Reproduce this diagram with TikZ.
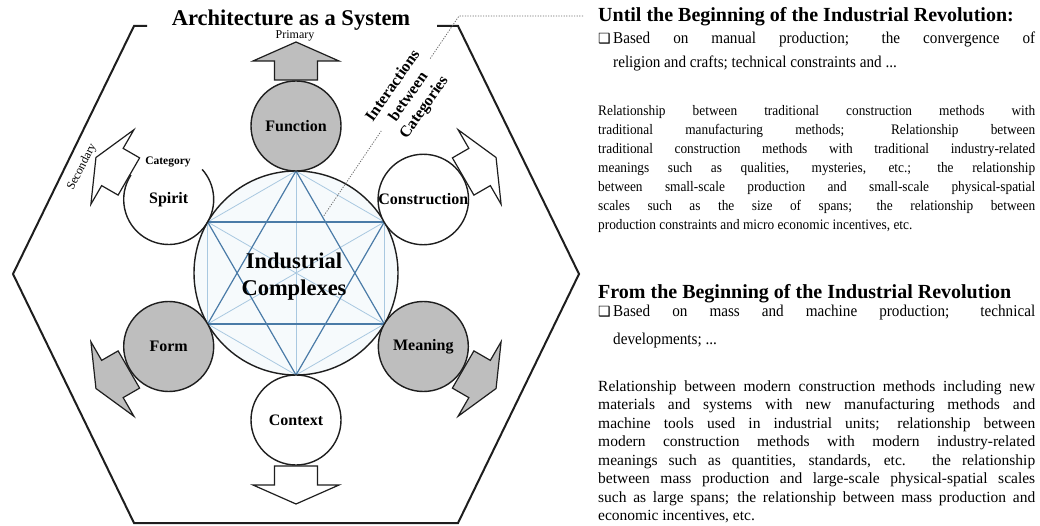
\documentclass[tikz,border=0pt]{standalone}
\usepackage{graphicx}
\usepackage{fontspec}
\setmainfont{Liberation Serif}
\newfontfamily\dejavu{DejaVu Sans}
\definecolor{darkline}{HTML}{1E1E1E}
\definecolor{fillgray}{HTML}{BEBEBE}
\definecolor{hexdark}{HTML}{4A7BA7}
\definecolor{hexlight}{HTML}{A9C8E0}
\definecolor{innerfill}{HTML}{F6FAFC}
\definecolor{dotgray}{HTML}{6E6E6E}
\newcommand{\fsz}[2]{\fontsize{#1}{#2}\selectfont}
\newcommand{\catarrow}[2]{%
  \draw[blockarrow, fill=#2, shift={(c.center)}, rotate=#1]
    (193,-21.5) -- (212,-21.5) -- (212,-43) -- (231,0) -- (212,43) -- (212,21.5) -- (193,21.5) -- cycle;}
\newcommand{\jline}[1]{\makebox[437pt][s]{#1}}
\newcommand{\sqA}[1]{\scalebox{0.92}[1]{\makebox[475pt][s]{#1}}}
\newcommand{\sqAn}[1]{\scalebox{0.92}[1]{#1}}
\newcommand{\sqB}[1]{\scalebox{0.92}[1]{\makebox[458.7pt][s]{#1}}}
\newcommand{\sqBn}[1]{\scalebox{0.92}[1]{#1}}
\newcommand{\bulbox}{\makebox[12pt][l]{\dejavu\fsz{14}{16}❑}\hspace{3pt}}
\begin{document}
\begin{tikzpicture}[x=1pt,y=1pt,
  catbase/.style={circle, minimum size=90pt, inner sep=0pt, outer sep=0pt, font=\fsz{16}{18}\bfseries},
  catgray/.style={catbase, draw=darkline, line width=1.4pt, fill=fillgray},
  catwhite/.style={catbase, draw=darkline, line width=1.4pt, fill=white},
  blockarrow/.style={draw=darkline, line width=1.2pt, line join=miter},
  hexstrong/.style={draw=hexdark, line width=1.2pt},
  hexweak/.style={draw=hexlight, line width=0.8pt},
  headtxt/.style={anchor=base west, inner sep=0pt, font=\fsz{20}{22}\bfseries},
  bultxt/.style={anchor=base west, inner sep=0pt, font=\fsz{16.5}{19}},
  paraA/.style={anchor=base west, inner sep=0pt, font=\fsz{14.5}{17}},
  paraB/.style={anchor=base west, inner sep=0pt, font=\fsz{15.5}{18}},
  smalltxt/.style={inner sep=1pt, font=\fsz{12}{14}},
]
\useasboundingbox (0,0) rectangle (1040,525);
\fill[white] (0,0) rectangle (1040,525);

% outer hexagon
\draw[line width=2pt, darkline, line join=miter]
  (147,499) -- (134,499) -- (13,251) -- (134,2) -- (458,2) -- (579,251) -- (458,499) -- (437,499);
\node[anchor=base, inner sep=0pt, font=\fsz{22.5}{26}\bfseries] (title) at (291,499) {Architecture as a System};

% central circle
\node[circle, draw=darkline, line width=1.4pt, fill=innerfill, minimum size=204pt, inner sep=0pt, outer sep=0pt] (c) at (296,252) {};
\foreach \a/\b in {90/150, 150/210, 210/270, 270/330, 330/30, 30/90, 90/270, 150/330, 210/30}
  \draw[hexweak] (c.\a) -- (c.\b);
\foreach \a/\b in {90/210, 210/330, 330/90, 270/30, 30/150, 150/270}
  \draw[hexstrong] (c.\a) -- (c.\b);
\node[align=center, inner sep=0pt, font=\fsz{22.5}{27}\bfseries] (ctext) at (294,248) {Industrial\\Complexes};

% dotted leader
\coordinate (dA) at (583,509);
\coordinate (dB) at (459,509);
\coordinate (dC) at (323,308);
\draw[dotgray, line width=0.8pt, dash pattern=on 1.2pt off 1.4pt] (dA) -- (dB) -- (dC);
\node[fill=white, inner sep=2pt, rotate=55, align=center, font=\fsz{16}{19}\bfseries] (inter) at (409,428)
  {Interactions\\between\\Categories};

% categories
\node[catgray]  (func)    at ([shift={(90:147)}]c.center)  {Function};
\node[catbase]  (spirit)  at ([shift={(150:147)}]c.center) {Spirit};
\draw[darkline, line width=1.4pt] (spirit.147) arc[start angle=147, end angle=402, radius=45];
\node[catwhite] (constr)  at ([shift={(30:147)}]c.center)  {Construction};
\node[catgray]  (form)    at ([shift={(210:147)}]c.center) {Form};
\node[catgray]  (meaning) at ([shift={(330:147)}]c.center) {Meaning};
\node[catwhite] (context) at ([shift={(270:147)}]c.center) {Context};

% block arrows
\catarrow{90}{fillgray}
\catarrow{150}{white}
\catarrow{30}{white}
\catarrow{210}{fillgray}
\catarrow{330}{fillgray}
\catarrow{270}{white}

\node[smalltxt] (primary) at (295,489) {Primary};
\node[smalltxt, rotate=63] (secondary) at (82,358) {Secondary};
\node[inner sep=1pt, font=\fsz{11.5}{13}\bfseries] (category) at (168,363) {Category};

% right column
\node[headtxt] (h1) at (598,503) {Until the Beginning of the Industrial Revolution:};
\node[bultxt] (b1a) at (598,481) {\bulbox\sqB{Based on manual production; the convergence of}};
\node[bultxt] (b1b) at (613,457) {\sqBn{religion and crafts; technical constraints and ...}};

\node[paraA] (p1a) at (598,409) {\sqA{Relationship between traditional construction methods with}};
\node[paraA] (p1b) at (598,390) {\sqA{traditional manufacturing methods; Relationship between}};
\node[paraA] (p1c) at (598,371) {\sqA{traditional construction methods with traditional industry-related}};
\node[paraA] (p1d) at (598,352) {\sqA{meanings such as qualities, mysteries, etc.; the relationship}};
\node[paraA] (p1e) at (598,333) {\sqA{between small-scale production and small-scale physical-spatial}};
\node[paraA] (p1f) at (598,314) {\sqA{scales such as the size of spans; the relationship between}};
\node[paraA] (p1g) at (598,295) {\sqAn{production constraints and micro economic incentives, etc.}};

\node[headtxt] (h2) at (598,226) {From the Beginning of the Industrial Revolution};
\node[bultxt] (b2a) at (598,208) {\bulbox\sqB{Based on mass and machine production; technical}};
\node[bultxt] (b2b) at (613,181) {\sqBn{developments; ...}};

\node[paraB] (p2a) at (598,134) {\jline{Relationship between modern construction methods including new}};
\node[paraB] (p2b) at (598,115.5) {\jline{materials and systems with new manufacturing methods and}};
\node[paraB] (p2c) at (598,97) {\jline{machine tools used in industrial units; relationship between}};
\node[paraB] (p2d) at (598,78.5) {\jline{modern construction methods with modern industry-related}};
\node[paraB] (p2e) at (598,60) {\jline{meanings such as quantities, standards, etc. the relationship}};
\node[paraB] (p2f) at (598,41.5) {\jline{between mass production and large-scale physical-spatial scales}};
\node[paraB] (p2g) at (598,23) {\jline{such as large spans; the relationship between mass production and}};
\node[paraB] (p2h) at (598,4.5) {economic incentives, etc.};
\end{tikzpicture}
\end{document}
